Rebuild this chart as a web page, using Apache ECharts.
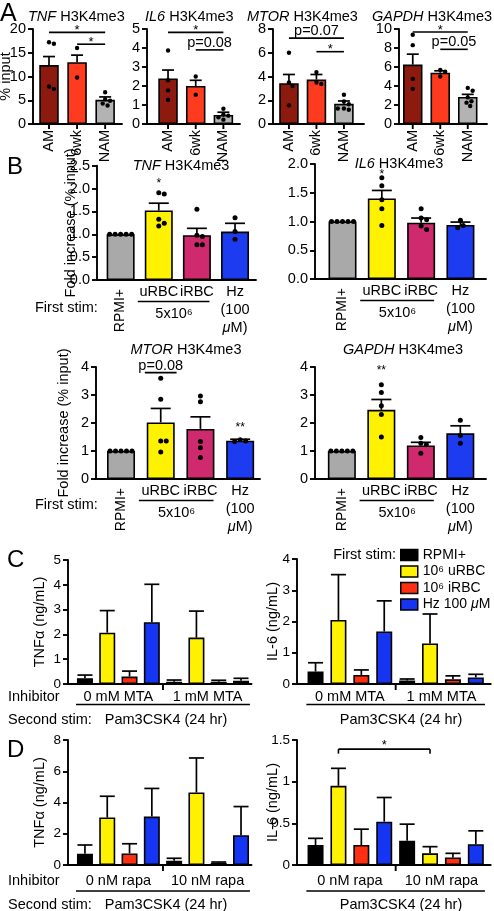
<!DOCTYPE html>
<html><head><meta charset="utf-8">
<script src="https://cdn.jsdelivr.net/npm/echarts@6/dist/echarts.min.js"></script>
<style>html,body{margin:0;padding:0;background:#fff}#c{width:494px;height:911px}</style>
</head><body><div id="c"></div>
<script>
// ================= DATA =================
// Panel A (mean, SEM, individual points, y ticks [min,max,step], significance [from,to,y,label])
const aCategories = ['AM', '6wk', 'NAM'];
const aTnfMean = [12.4, 13.0, 5.1];
const aTnfSem = [1.8, 1.5, 0.6];
const aTnfPoints = [[17.2, 16.9, 7.9, 7.4], [16.0, 9.8], [6.7, 5.2, 4.9, 4.3, 3.9]];
const aTnfTicks = [0, 20, 5];
const aTnfSig = [[0, 2, 19.3, '*'], [1, 2, 16.8, '*']];

const aIl6Mean = [2.4, 2.0, 0.48];
const aIl6Sem = [0.44, 0.3, 0.14];
const aIl6Points = [[3.87, 2.3, 1.77, 1.28], [2.5, 1.54], [0.8, 0.5, 0.44, 0.35, 0.23]];
const aIl6Ticks = [0, 5, 1];
const aIl6Sig = [[0, 2, 4.82, '*'], [1, 2, 3.9, 'p=0.08']];

const aMtorMean = [3.43, 3.74, 1.7];
const aMtorSem = [0.74, 0.43, 0.24];
const aMtorPoints = [[6.0, 3.5, 3.2, 1.57], [4.37, 3.5, 3.37], [2.46, 1.89, 1.66, 1.3, 1.2, 1.3]];
const aMtorTicks = [0, 8, 2];
const aMtorSig = [[0, 2, 7.23, 'p=0.07'], [1, 2, 6.09, '*']];

const aGapdhMean = [6.25, 5.4, 2.85];
const aGapdhSem = [1.1, 0.2, 0.27];
const aGapdhPoints = [[9.4, 8.3, 4.75, 3.7], [5.7, 5.5, 5.0], [3.8, 3.5, 2.8, 2.4, 2.25, 1.9]];
const aGapdhTicks = [0, 10, 2];
const aGapdhSig = [[0, 2, 9.68, '*'], [1, 2, 7.86, 'p=0.05']];

// Panel B
const bStims = ['RPMI+', 'uRBC', 'iRBC', 'Hz\n(100\n{i|\u03bc}M)'];
const bDoseLabel = '5x10\u2076';
const bTnfMean = [1.0, 1.52, 0.98, 1.06];
const bTnfSem = [0, 0.16, 0.15, 0.18];
const bTnfPoints = [[1, 1, 1, 1, 1], [1.91, 1.88, 1.33, 1.18, 1.24], [1.55, 0.98, 0.77, 0.77, 0.95], [1.36, 1.06, 0.89]];
const bTnfMarks = [[1, 2.19, '*']];
const bTnfSig = [];
const bTnfTicks = [0, 2.5, 0.5];

const bIl6Mean = [1.0, 1.4, 0.98, 0.94];
const bIl6Sem = [0, 0.14, 0.08, 0.05];
const bIl6Points = [[1, 1, 1, 1, 1], [1.76, 1.62, 1.38, 1.22, 0.93], [1.22, 1.06, 1.03, 0.92, 0.86], [1.02, 0.93, 0.89]];
const bIl6Marks = [[1, 1.87, '*']];
const bIl6Sig = [];
const bIl6Ticks = [0, 2.0, 0.5];

const bMtorMean = [1.0, 2.02, 1.79, 1.37];
const bMtorSem = [0, 0.5, 0.43, 0.05];
const bMtorPoints = [[1, 1, 1, 1, 1], [3.6, 2.85, 1.36, 1.36, 0.96], [2.96, 2.76, 1.34, 1.12, 0.77], [1.4, 1.36, 1.34]];
const bMtorMarks = [[3, 1.95, '**']];
const bMtorSig = [[0.6, 1.4, 3.8, 'p=0.08']];
const bMtorTicks = [0, 4, 1];

const bGapdhMean = [1.0, 2.47, 1.2, 1.63];
const bGapdhSem = [0, 0.37, 0.11, 0.27];
const bGapdhPoints = [[1, 1, 1, 1, 1], [3.37, 3.09, 2.62, 2.3, 1.5], [1.48, 1.28, 1.22, 0.92], [2.1, 1.55, 1.28]];
const bGapdhMarks = [[1, 4.0, '**']];
const bGapdhSig = [];
const bGapdhTicks = [0, 4, 1];

// Panels C / D  (rows = first stim, columns = inhibitor group)
const cdStims = ['RPMI+', '10\u2076 uRBC', '10\u2076 iRBC', 'Hz 100 \u03bcM'];
const cInhibitors = ['0 mM MTA', '1 mM MTA'];
const dInhibitors = ['0 nM rapa', '10 nM rapa'];
const cTnfMean = [[0.23, 0.09], [2.07, 1.87], [0.3, 0.09], [2.49, 0.13]];
const cTnfSem = [[0.13, 0.07], [0.89, 1.07], [0.22, 0.06], [1.53, 0.1]];
const cTnfTicks = [0, 5, 1];
const cIl6Mean = [[0.4, 0.11], [2.05, 1.3], [0.29, 0.15], [1.68, 0.21]];
const cIl6Sem = [[0.28, 0.05], [1.45, 0.94], [0.16, 0.11], [0.98, 0.1]];
const cIl6Ticks = [0, 4, 1];
const dTnfMean = [[0.72, 0.28], [3.04, 4.64], [0.74, 0.13], [3.1, 1.91]];
const dTnfSem = [[0.56, 0.15], [1.36, 2.21], [0.62, 0.06], [1.8, 1.83]];
const dTnfTicks = [0, 8, 2];
const dIl6Mean = [[0.24, 0.29], [0.95, 0.14], [0.24, 0.09], [0.52, 0.25]];
const dIl6Sem = [[0.08, 0.2], [0.21, 0.08], [0.19, 0.05], [0.29, 0.16]];
const dIl6Ticks = [0, 1.5, 0.5];
const dIl6Sig = [[[1, 0], [1, 1], 1.39, '*']]; // [stim, group] -> [stim, group]

// ================= STYLE =================
const FONT = '"Liberation Sans", Arial, Helvetica, sans-serif';
const AXW = 1.9;
const aColors = ['#8c1a0e', '#ff3b1f', '#b3b3b3'];
const bColors = ['#a9a9a9', '#fff200', '#cf2a6e', '#1d3cf0'];
const cdColors = ['#000000', '#fff200', '#ff3012', '#1535f2'];

const grids = [], xAxes = [], yAxes = [], series = [], graphics = [];

function addGrid(g) {
  const idx = grids.length;
  grids.push({ left: g.left, top: g.top, width: g.width, height: g.height, containLabel: false, outerBoundsMode: 'none' });
  xAxes.push({ gridIndex: idx, type: 'value', min: g.xMin, max: g.xMax,
    axisLine: { show: true, onZero: false, lineStyle: { color: '#000', width: AXW } },
    axisTick: { show: false }, axisLabel: { show: false }, splitLine: { show: false } });
  yAxes.push({ gridIndex: idx, type: 'value', min: g.ticks[0], max: g.ticks[1], interval: g.ticks[2],
    name: g.name || '', nameLocation: 'middle', nameGap: g.nameGap || 20, nameMoveOverlap: false,
    nameTextStyle: { fontSize: 14.5, color: '#000', fontFamily: FONT },
    axisLine: { show: true, onZero: false, lineStyle: { color: '#000', width: AXW } },
    axisTick: { show: true, length: 5, lineStyle: { color: '#000', width: AXW } },
    axisLabel: { fontSize: g.tickSize || 14.5, color: '#000', fontFamily: FONT, margin: 7, formatter: g.fmt },
    splitLine: { show: false } });
  return idx;
}

function barSeries(gi, means, colors, w) {
  return { type: 'bar', xAxisIndex: gi, yAxisIndex: gi, barWidth: w, silent: true, z: 2,
    data: means.map((v, i) => ({ value: [i, v], itemStyle: { color: colors[i] } })),
    itemStyle: { borderColor: '#000', borderWidth: 1.6 } };
}

function errSeries(gi, rows, cap) {
  return { type: 'custom', xAxisIndex: gi, yAxisIndex: gi, z: 5, silent: true, clip: false,
    data: rows,
    renderItem(params, api) {
      const x = api.value(0), m = api.value(1), s = api.value(2);
      if (!(s > 0)) return null;
      const p0 = api.coord([x, m]), p1 = api.coord([x, m + s]);
      return { type: 'group', children: [
        { type: 'line', shape: { x1: p0[0], y1: p0[1], x2: p1[0], y2: p1[1] }, style: { stroke: '#000', lineWidth: 1.7 } },
        { type: 'line', shape: { x1: p1[0] - cap / 2, y1: p1[1], x2: p1[0] + cap / 2, y2: p1[1] }, style: { stroke: '#000', lineWidth: 1.7 } }
      ] };
    } };
}

function dotsSeries(gi, points, r) {
  const data = [];
  points.forEach((arr, c) => arr.forEach(v => data.push([c, v])));
  return { type: 'custom', xAxisIndex: gi, yAxisIndex: gi, z: 10, silent: true, clip: false, data,
    renderItem(params, api) {
      const i = params.dataIndex, cat = data[i][0], d = 2 * r + 0.5;
      const placed = []; let out = null;
      for (let k = 0; k <= i; k++) {
        if (data[k][0] !== cat) continue;
        const p = api.coord(data[k]);
        let off = 0;
        for (let t = 0; t < 60; t++) {
          const o = t === 0 ? 0 : (t % 2 ? 1 : -1) * Math.ceil(t / 2) * d * 0.25;
          if (placed.every(q => Math.hypot(q[0] - (p[0] + o), q[1] - p[1]) >= d)) { off = o; break; }
        }
        placed.push([p[0] + off, p[1]]);
        if (k === i) out = [p[0] + off, p[1]];
      }
      return { type: 'circle', shape: { cx: out[0], cy: out[1], r }, style: { fill: '#000' } };
    } };
}

function sigSeries(gi, list, opt) {
  opt = opt || {};
  return { type: 'custom', xAxisIndex: gi, yAxisIndex: gi, z: 10, silent: true, clip: false,
    data: list.map(b => [b[0], b[2], b[1]]),
    renderItem(params, api) {
      const b = list[params.dataIndex];
      const p1 = api.coord([b[0], b[2]]), p2 = api.coord([b[1], b[2]]);
      const ch = [{ type: 'line', shape: { x1: p1[0], y1: p1[1], x2: p2[0], y2: p2[1] }, style: { stroke: '#000', lineWidth: 1.6 } }];
      if (opt.drop) {
        ch.push({ type: 'line', shape: { x1: p1[0], y1: p1[1], x2: p1[0], y2: p1[1] + opt.drop }, style: { stroke: '#000', lineWidth: 1.6 } });
        ch.push({ type: 'line', shape: { x1: p2[0], y1: p2[1], x2: p2[0], y2: p2[1] + opt.drop }, style: { stroke: '#000', lineWidth: 1.6 } });
      }
      const star = /^\*+$/.test(b[3]);
      ch.push({ type: 'text', x: (p1[0] + p2[0]) / 2, y: star ? p1[1] - (opt.starGap || 2) : p1[1] + 0.5,
        style: { text: b[3], fill: '#000', fontFamily: FONT, fontSize: star ? 13 : 14.5, align: 'center', verticalAlign: star ? 'middle' : 'bottom' } });
      return { type: 'group', children: ch };
    } };
}

function markSeries(gi, marks) {
  return { type: 'custom', xAxisIndex: gi, yAxisIndex: gi, z: 10, silent: true, clip: false,
    data: marks.map(m => [m[0], m[1]]),
    renderItem(params, api) {
      const m = marks[params.dataIndex];
      const p = api.coord([m[0], m[1]]);
      return { type: 'text', x: p[0], y: p[1] + 3.5, style: { text: m[2], fill: '#000', fontFamily: FONT, fontSize: 12, align: 'center', verticalAlign: 'middle' } };
    } };
}

function aLabelSeries(gi, cats) {
  return { type: 'custom', xAxisIndex: gi, yAxisIndex: gi, z: 10, silent: true, clip: false,
    data: cats.map((c, i) => [i, 0]),
    renderItem(params, api) {
      const p = api.coord([params.dataIndex, 0]);
      return { type: 'group', children: [
        { type: 'line', shape: { x1: p[0], y1: p[1], x2: p[0], y2: p[1] + 5 }, style: { stroke: '#000', lineWidth: AXW } },
        { type: 'text', x: p[0], y: p[1] + 6, rotation: Math.PI / 2,
          style: { text: cats[params.dataIndex], fontSize: 14.5, fontFamily: FONT, fill: '#000', align: 'right', verticalAlign: 'middle' } }
      ] };
    } };
}

function bLabelSeries(gi, labels, dose) {
  return { type: 'custom', xAxisIndex: gi, yAxisIndex: gi, z: 10, silent: true, clip: false,
    data: labels.map((c, i) => [i, 0]),
    renderItem(params, api) {
      const i = params.dataIndex;
      const p = api.coord([i, 0]);
      const ch = [];
      if (i === 0) {
        ch.push({ type: 'text', x: p[0], y: p[1] + 9, rotation: Math.PI / 2,
          style: { text: labels[i], fontSize: 14, fontFamily: FONT, fill: '#000', align: 'right', verticalAlign: 'middle' } });
      } else {
        ch.push({ type: 'text', x: p[0], y: p[1] + 3,
          style: { text: labels[i], fontSize: 14.5, fontFamily: FONT, fill: '#000', align: 'center', verticalAlign: 'top', lineHeight: 18,
            rich: { i: { fontStyle: 'italic', fontSize: 14.5, fontFamily: FONT, fill: '#000', lineHeight: 18 } } } });
      }
      if (i === 1) {
        const a = api.coord([0.45, 0]), b = api.coord([2.33, 0]), c = api.coord([1.4, 0]);
        ch.push({ type: 'line', shape: { x1: a[0], y1: a[1] + 21.5, x2: b[0], y2: b[1] + 21.5 }, style: { stroke: '#000', lineWidth: 1.6 } });
        ch.push({ type: 'text', x: c[0], y: c[1] + 34, style: { text: dose, fontSize: 14.5, fontFamily: FONT, fill: '#000', align: 'center', verticalAlign: 'middle' } });
      }
      return { type: 'group', children: ch };
    } };
}

function groupDecor(gi, groups, nPer, cfg) {
  return { type: 'custom', xAxisIndex: gi, yAxisIndex: gi, z: 10, silent: true, clip: false,
    data: groups.map((g, i) => [i * nPer + (nPer - 1) / 2, 0]),
    renderItem(params, api) {
      const p = api.coord([api.value(0), 0]);
      const ch = [{ type: 'text', x: p[0], y: p[1] + cfg.labelDy,
        style: { text: groups[params.dataIndex], fontSize: 14.5, fontFamily: FONT, fill: '#000', align: 'center', verticalAlign: 'middle' } }];
      if (params.dataIndex === 0) {
        const a = api.coord([cfg.lineFrom, 0]), b = api.coord([cfg.lineTo, 0]), t = api.coord([nPer - 0.5, 0]);
        ch.push({ type: 'line', shape: { x1: a[0], y1: a[1] + cfg.lineDy, x2: b[0], y2: b[1] + cfg.lineDy }, style: { stroke: '#000', lineWidth: 1.6 } });
        ch.push({ type: 'line', shape: { x1: t[0], y1: t[1], x2: t[0], y2: t[1] + 6 }, style: { stroke: '#000', lineWidth: AXW } });
      }
      return { type: 'group', children: ch };
    } };
}

function txt(x, y, text, o) {
  graphics.push({ type: 'text', x, y, silent: true, z: 100,
    style: Object.assign({ text, fill: '#000', fontFamily: FONT, fontSize: 14.5, align: 'left', verticalAlign: 'middle' }, o || {}) });
}
function titleTxt(x, y, gene, align, size) {
  txt(x, y, '{i|' + gene + '} H3K4me3', { align, fontSize: size,
    rich: { i: { fontStyle: 'italic', fontFamily: FONT, fontSize: size, fill: '#000' } } });
}

// ================= PANEL A =================
const aPanels = [
  { gene: 'TNF', mean: aTnfMean, sem: aTnfSem, pts: aTnfPoints, ticks: aTnfTicks, sig: aTnfSig, left: 33, width: 89, xMin: -0.57, xMax: 2.6, name: '% input', tx: 28 },
  { gene: 'IL6', mean: aIl6Mean, sem: aIl6Sem, pts: aIl6Points, ticks: aIl6Ticks, sig: aIl6Sig, left: 147, width: 93, xMin: -0.76, xMax: 2.6, tx: 145 },
  { gene: 'MTOR', mean: aMtorMean, sem: aMtorSem, pts: aMtorPoints, ticks: aMtorTicks, sig: aMtorSig, left: 273, width: 91, xMin: -0.58, xMax: 2.73, tx: 247 },
  { gene: 'GAPDH', mean: aGapdhMean, sem: aGapdhSem, pts: aGapdhPoints, ticks: aGapdhTicks, sig: aGapdhSig, left: 399, width: 88, xMin: -0.5, xMax: 2.7, tx: 372 }
];
aPanels.forEach(p => {
  const gi = addGrid({ left: p.left, top: 29, width: p.width, height: 95, xMin: p.xMin, xMax: p.xMax, ticks: p.ticks, name: p.name, nameGap: 19.5 });
  series.push(barSeries(gi, p.mean, aColors, 19.5));
  series.push(errSeries(gi, p.mean.map((v, i) => [i, v, p.sem[i]]), 12));
  series.push(dotsSeries(gi, p.pts, 2.2));
  series.push(sigSeries(gi, p.sig));
  series.push(aLabelSeries(gi, aCategories));
  titleTxt(p.tx, 17, p.gene, 'left', 14.5);
});

// ================= PANEL B =================
const bPanels = [
  { gene: 'TNF', mean: bTnfMean, sem: bTnfSem, pts: bTnfPoints, marks: bTnfMarks, sig: bTnfSig, ticks: bTnfTicks, fmt: v => v.toFixed(1),
    left: 97, top: 165.7, width: 159, height: 114.3, xMin: -0.62, xMax: 3.55, name: 'Fold increase (% input)', nameGap: 19, tx: 181, ty: 166 },
  { gene: 'IL6', mean: bIl6Mean, sem: bIl6Sem, pts: bIl6Points, marks: bIl6Marks, sig: bIl6Sig, ticks: bIl6Ticks, fmt: v => v.toFixed(1),
    left: 315, top: 164, width: 171, height: 115, xMin: -0.7, xMax: 3.65, tx: 399, ty: 164 },
  { gene: 'MTOR', mean: bMtorMean, sem: bMtorSem, pts: bMtorPoints, marks: bMtorMarks, sig: bMtorSig, ticks: bMtorTicks,
    left: 96, top: 367, width: 164, height: 112, xMin: -0.63, xMax: 3.5, name: 'Fold increase (% input)', nameGap: 25, tx: 186, ty: 350 },
  { gene: 'GAPDH', mean: bGapdhMean, sem: bGapdhSem, pts: bGapdhPoints, marks: bGapdhMarks, sig: bGapdhSig, ticks: bGapdhTicks,
    left: 315, top: 367, width: 171, height: 112, xMin: -0.68, xMax: 3.65, tx: 403, ty: 350 }
];
bPanels.forEach(p => {
  const gi = addGrid({ left: p.left, top: p.top, width: p.width, height: p.height, xMin: p.xMin, xMax: p.xMax, ticks: p.ticks, fmt: p.fmt, name: p.name, nameGap: p.nameGap });
  series.push(barSeries(gi, p.mean, bColors, 28));
  series.push(errSeries(gi, p.mean.map((v, i) => [i, v, p.sem[i]]), 20));
  series.push(dotsSeries(gi, p.pts, 2.5));
  series.push(markSeries(gi, p.marks));
  series.push(sigSeries(gi, p.sig));
  series.push(bLabelSeries(gi, bStims, bDoseLabel));
  titleTxt(p.tx, p.ty, p.gene, 'center', 14.5);
});

// ================= PANELS C / D =================
const cdPanels = [
  { mean: cTnfMean, sem: cTnfSem, ticks: cTnfTicks, groups: cInhibitors, left: 68, top: 560, width: 183.5, height: 124, xMin: -0.76, xMax: 7.47, name: 'TNF\u03b1 (ng/mL)', nameGap: 21, labelDy: 13, lineDy: 20.5 },
  { mean: cIl6Mean, sem: cIl6Sem, ticks: cIl6Ticks, groups: cInhibitors, left: 297, top: 559, width: 193.7, height: 125, xMin: -0.81, xMax: 7.65, name: 'IL-6 (ng/mL)', nameGap: 17, labelDy: 13, lineDy: 20.5 },
  { mean: dTnfMean, sem: dTnfSem, ticks: dTnfTicks, groups: dInhibitors, left: 68, top: 740, width: 183.5, height: 125, xMin: -0.76, xMax: 7.47, name: 'TNF\u03b1 (ng/mL)', nameGap: 21, labelDy: 16, lineDy: 26 },
  { mean: dIl6Mean, sem: dIl6Sem, ticks: dIl6Ticks, groups: dInhibitors, left: 297, top: 740, width: 193.7, height: 125, xMin: -0.81, xMax: 7.65, name: 'IL-6 (ng/mL)', nameGap: 17, labelDy: 16, lineDy: 26, sig: dIl6Sig }
];
cdPanels.forEach(p => {
  const gi = addGrid({ left: p.left, top: p.top, width: p.width, height: p.height, xMin: p.xMin, xMax: p.xMax, ticks: p.ticks, name: p.name, nameGap: p.nameGap, tickSize: 13.5 });
  const n = cdStims.length;
  const errRows = [];
  cdStims.forEach((s, si) => {
    series.push({ type: 'bar', name: s, xAxisIndex: gi, yAxisIndex: gi, barWidth: 16, barGap: '-100%', silent: true, z: 2,
      data: p.mean[si].map((v, g) => [g * n + si, v]),
      itemStyle: { color: cdColors[si], borderColor: '#000', borderWidth: 1.6 } });
    p.mean[si].forEach((v, g) => errRows.push([g * n + si, v, p.sem[si][g]]));
  });
  series.push(errSeries(gi, errRows, 15));
  series.push(groupDecor(gi, p.groups, n, { labelDy: p.labelDy, lineDy: p.lineDy, lineFrom: -0.4, lineTo: 7.4 }));
  if (p.sig) series.push(sigSeries(gi, p.sig.map(s => [s[0][1] * n + s[0][0], s[1][1] * n + s[1][0], s[2], s[3]]), { drop: 4.5, starGap: 4 }));
});

// ================= STATIC TEXT =================
txt(0, 14, 'A', { fontSize: 25 });
txt(7, 167, 'B', { fontSize: 24 });
txt(7, 560, 'C', { fontSize: 24 });
txt(7, 750, 'D', { fontSize: 24 });
txt(35, 308, 'First stim:');
txt(35, 505, 'First stim:');
txt(8, 697, 'Inhibitor');
txt(8, 720, 'Second stim:');
txt(166, 720, 'Pam3CSK4 (24 hr)', { align: 'center' });
txt(401, 720, 'Pam3CSK4 (24 hr)', { align: 'center' });
txt(8, 881, 'Inhibitor');
txt(8, 905, 'Second stim:');
txt(166, 905, 'Pam3CSK4 (24 hr)', { align: 'center' });
txt(401, 905, 'Pam3CSK4 (24 hr)', { align: 'center' });
txt(396, 555, 'First stim:', { align: 'right' });

const chart = echarts.init(document.getElementById('c'), null, { renderer: 'canvas' });
chart.setOption({
  animation: false,
  backgroundColor: '#fff',
  textStyle: { fontFamily: FONT, color: '#000' },
  grid: grids, xAxis: xAxes, yAxis: yAxes, series,
  graphic: { elements: graphics },
  legend: { show: true, orient: 'vertical', left: 400, top: 548, padding: 0, itemWidth: 17, itemHeight: 11, itemGap: 2.5,
    icon: 'rect', selectedMode: false, data: cdStims,
    itemStyle: { borderColor: '#000', borderWidth: 1.5 },
    formatter: n => n.replace('\u03bc', '{i|\u03bc}'),
    textStyle: { fontSize: 14, fontFamily: FONT, color: '#000', lineHeight: 12,
      rich: { i: { fontStyle: 'italic', fontSize: 14, fontFamily: FONT, color: '#000', lineHeight: 12 } } } }
});
</script></body></html>
